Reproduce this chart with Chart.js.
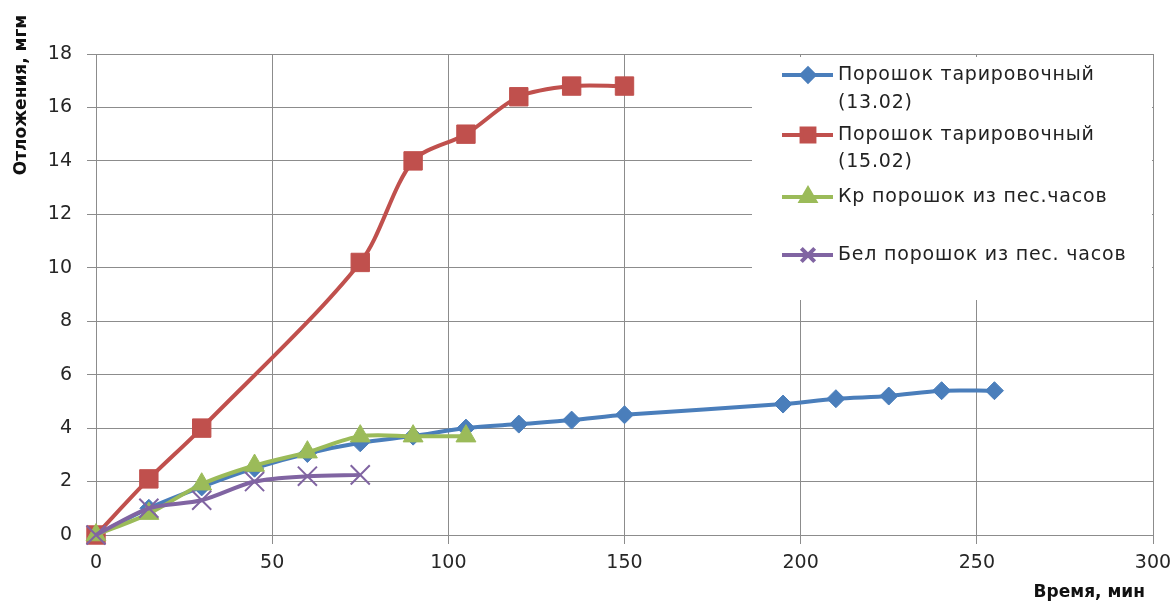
<!DOCTYPE html>
<html>
<head>
<meta charset="utf-8">
<script src="https://cdn.jsdelivr.net/npm/chart.js@4.4.1/dist/chart.umd.min.js"></script>
<style>
  html, body { margin: 0; padding: 0; background: #fff; }
  #wrap { width: 1174px; height: 604px; }
</style>
</head>
<body>
<div id="wrap"><canvas id="chart" width="1174" height="604"></canvas></div>
<script>
// данные с графика (время, мин / отложения, мгм)
const timeBlue = [0, 15, 30, 45, 60, 75, 90, 105, 120, 135, 150, 195, 210, 225, 240, 255];
const valBlue = [0, 1.0, 1.8, 2.5, 3.05, 3.45, 3.7, 4.0, 4.15, 4.3, 4.5, 4.9, 5.1, 5.2, 5.4, 5.4];
const timeRed = [0, 15, 30, 75, 90, 105, 120, 135, 150];
const valRed = [0, 2.1, 4.0, 10.2, 14.0, 15.0, 16.4, 16.8, 16.8];
const timeGreen = [0, 15, 30, 45, 60, 75, 90, 105];
const valGreen = [0, 0.8, 1.9, 2.6, 3.1, 3.7, 3.7, 3.7];
const timePurple = [0, 15, 30, 45, 60, 75];
const valPurple = [0, 1.0, 1.3, 2.0, 2.2, 2.25];

const xTicks = [0, 50, 100, 150, 200, 250, 300];
const yTicks = [0, 2, 4, 6, 8, 10, 12, 14, 16, 18];

const seriesNames = [
  ['Порошок тарировочный', '(13.02)'],
  ['Порошок тарировочный', '(15.02)'],
  ['Кр порошок из пес.часов'],
  ['Бел порошок из пес. часов']
];
const xTitle = 'Время, мин';
const yTitle = 'Отложения, мгм';

const FONT = '"DejaVu Sans", sans-serif';
const GRID = '#8c8c8c';

const toPoints = (xs, ys) => xs.map((x, i) => ({ x, y: ys[i] }));

function series(idx, xs, ys, color, style, radius, order) {
  return {
    label: seriesNames[idx].join(' '),
    data: toPoints(xs, ys),
    borderColor: color,
    backgroundColor: color,
    pointBackgroundColor: color,
    pointBorderColor: color,
    pointStyle: style,
    pointRadius: radius,
    pointBorderWidth: style === 'crossRot' ? 2 : 1,
    borderWidth: 4,
    tension: 0.3,
    order,
    clip: false,
    legendRadius: radius * 0.7
  };
}

// легенда внутри области графика, на белом фоне
const boxLegend = {
  id: 'boxLegend',
  afterDraw(chart) {
    const { ctx, chartArea } = chart;
    const left = chartArea.right - 401;
    const top = chartArea.top + 3;
    ctx.save();
    ctx.fillStyle = '#fff';
    ctx.fillRect(left, top, 400, 300 - top);

    const rows = [[75, 103], [135, 162], [197], [255]];
    const lineX0 = left + 30, lineX1 = left + 81, markX = left + 56, textX = left + 86;
    ctx.font = '19px ' + FONT;
    ctx.textBaseline = 'middle';
    ctx.textAlign = 'left';
    chart.data.datasets.forEach((ds, i) => {
      const y = rows[i][0];
      ctx.strokeStyle = ds.borderColor;
      ctx.fillStyle = ds.borderColor;
      ctx.lineWidth = 4;
      ctx.beginPath();
      ctx.moveTo(lineX0, y);
      ctx.lineTo(lineX1, y);
      ctx.stroke();
      Chart.helpers.drawPoint(ctx, {
        pointStyle: ds.pointStyle,
        radius: ds.legendRadius,
        borderWidth: ds.pointStyle === 'crossRot' ? 1.5 : 1,
        rotation: 0
      }, markX, y);
      ctx.fillStyle = '#222';
      ctx.letterSpacing = '0.8px';
      seriesNames[i].forEach((t, k) => ctx.fillText(t, textX, rows[i][k]));
      ctx.letterSpacing = '0px';
    });
    ctx.restore();
  }
};

// подписи осей
const axisTitles = {
  id: 'axisTitles',
  afterDraw(chart) {
    const { ctx, chartArea } = chart;
    ctx.save();
    ctx.fillStyle = '#111';
    ctx.font = 'bold 17px ' + FONT;
    ctx.textBaseline = 'middle';
    ctx.textAlign = 'right';
    ctx.fillText(xTitle, chartArea.right - 8, chart.height - 11);
    ctx.translate(22, 95);
    ctx.rotate(-Math.PI / 2);
    ctx.textAlign = 'center';
    ctx.fillText(yTitle, 0, 0);
    ctx.restore();
  }
};

new Chart(document.getElementById('chart'), {
  type: 'line',
  data: {
    datasets: [
      series(0, timeBlue, valBlue, '#4A7EBB', 'rectRot', 9, 4),
      series(1, timeRed, valRed, '#C0504D', 'rect', 13, 3),
      series(2, timeGreen, valGreen, '#9BBB59', 'triangle', 11.5, 2),
      series(3, timePurple, valPurple, '#8064A2', 'crossRot', 13.5, 1)
    ]
  },
  options: {
    responsive: false,
    animation: false,
    layout: { padding: { top: 54, right: 21, left: 0, bottom: 0 } },
    plugins: {
      legend: { display: false },
      tooltip: { enabled: false }
    },
    scales: {
      x: {
        type: 'linear',
        min: 0,
        max: 300,
        afterBuildTicks: s => { s.ticks = xTicks.map(v => ({ value: v })); },
        afterFit: s => { s.height = 69; s.paddingLeft = 0; s.paddingRight = 0; },
        grid: { color: GRID, lineWidth: 1, tickLength: 9 },
        border: { color: GRID, width: 1 },
        ticks: { font: { family: FONT, size: 19 }, color: '#262626', padding: 8, maxRotation: 0 }
      },
      y: {
        min: 0,
        max: 18,
        afterBuildTicks: s => { s.ticks = yTicks.map(v => ({ value: v })); },
        afterFit: s => { s.width = 96; s.paddingTop = 0; s.paddingBottom = 0; },
        grid: { color: GRID, lineWidth: 1, tickLength: 9 },
        border: { color: GRID, width: 1 },
        ticks: { font: { family: FONT, size: 19 }, color: '#262626', padding: 15 }
      }
    }
  },
  plugins: [boxLegend, axisTitles]
});
</script>
</body>
</html>
